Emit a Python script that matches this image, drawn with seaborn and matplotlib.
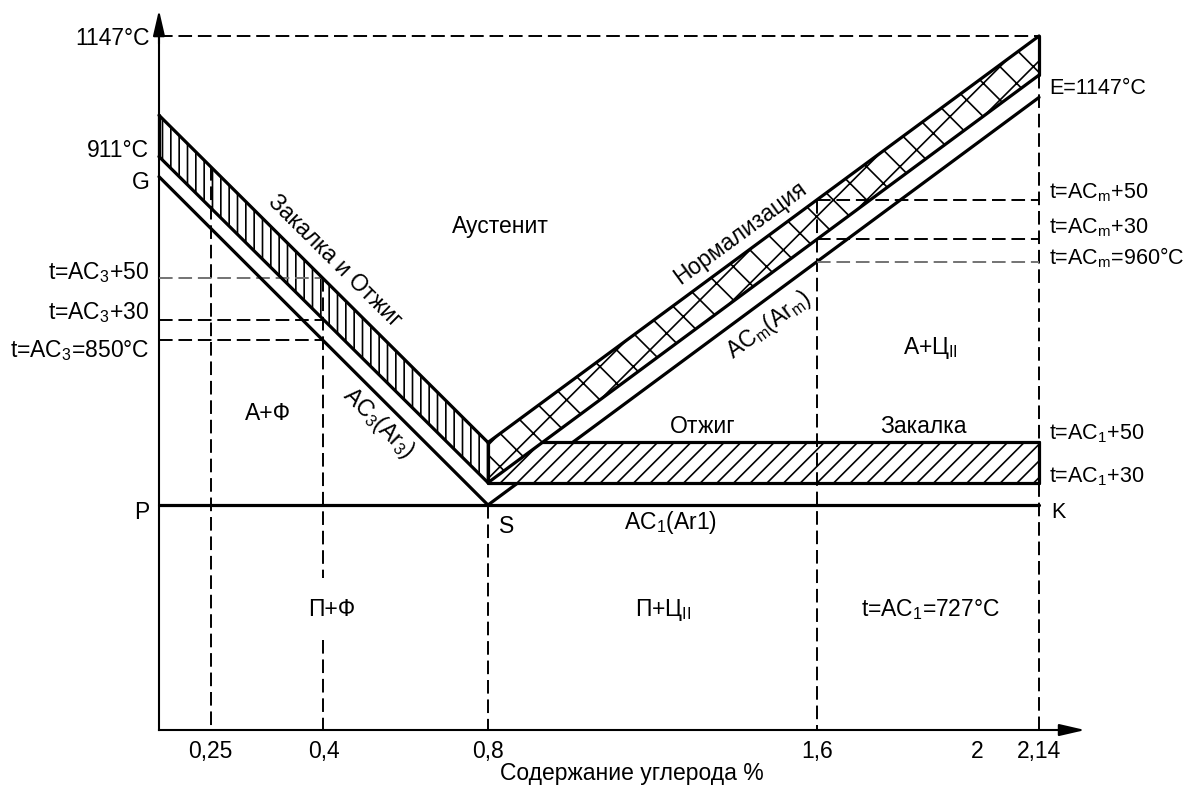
import pandas as pd
import seaborn as sns
import matplotlib.pyplot as plt

# carbon content, % (schematic positions along the axis)
x_left = [0.0, 0.8]
x_right = [0.8, 2.14]
x_ticks = [0.126, 0.4, 0.8, 1.6, 1.99, 2.14]
x_tick_labels = ['0,25', '0,4', '0,8', '1,6', '2', '2,14']

# temperatures, °C (schematic scale, as drawn)
quench_upper = [1076, 783]   # AC3 + 50
quench_lower = [1039, 747]   # AC3 + 30
ac3_line = [1021, 727]       # G-S
norm_upper = [783, 1147]     # ACm + 50
norm_lower = [747, 1112]     # ACm + 30
acm_line = [727, 1092]       # S-E
t_ac1 = 727
t_ac1_30 = 747
t_ac1_50 = 783
t_e = 1147
t_floor = 525.5
anneal_start = 0.932

# dashed guide lines
guide_x = [0.126, 0.4, 0.8, 1.6, 2.14]
guide_top = [1030, 930, 727, 1000, 1147]
left_levels = [930, 893, 875]
right_levels = [1000, 965, 945]

y_label_pos = [1147, 1046.7, 1018, 937.4, 901.6, 867.6, 722.5]
y_labels = ['1147°C', '911°C', 'G', 't=AC$_3$+50', 't=AC$_3$+30',
            't=AC$_3$=850°C', 'P']

sns.set_theme(style='white')
plt.rcParams['font.family'] = ['Liberation Sans', 'DejaVu Sans']
plt.rcParams['mathtext.fontset'] = 'custom'
plt.rcParams['mathtext.rm'] = 'Liberation Sans'
plt.rcParams['mathtext.it'] = 'Liberation Sans'
plt.rcParams['hatch.linewidth'] = 1.2
fs = 16.5
fs_right = 15.5

fig = plt.figure(figsize=(11.89, 7.89), dpi=100)
ax = fig.add_axes([0, 0, 1, 1])
ax.set_xlim(-0.3866, 2.5046)
ax.set_ylim(472.7, 1179.2)

# solid contour lines
solid = [
    ('q_up', x_left, quench_upper),
    ('q_lo', x_left, quench_lower),
    ('gs', x_left, ac3_line),
    ('n_up', x_right, norm_upper),
    ('n_lo', x_right, norm_lower),
    ('psk', [0, 2.14], [t_ac1, t_ac1]),
    ('a_top', [anneal_start, 2.14], [t_ac1_50, t_ac1_50]),
    ('a_bot', [0.8, 2.14], [t_ac1_30, t_ac1_30]),
    ('v08', [0.8, 0.8], [t_ac1_30, t_ac1_50]),
    ('v214a', [2.14, 2.14], [t_ac1_30, t_ac1_50]),
    ('v214b', [2.14, 2.14], [norm_lower[1], t_e]),
    ('v0', [0, 0], [quench_lower[0], quench_upper[0]]),
]
rows = []
for name, xs, ys in solid:
    for xv, yv in zip(xs, ys):
        rows.append({'x': xv, 'T': yv, 'seg': name})
solid_df = pd.DataFrame(rows)

dashed = []
for xv, top in zip(guide_x, guide_top):
    if xv == 0.4:
        dashed.append(('v04a', [xv, xv], [top, 662], 'k'))
        dashed.append(('v04b', [xv, xv], [606, t_floor], 'k'))
    else:
        dashed.append(('v%s' % xv, [xv, xv], [top, t_floor], 'k'))
dashed.append(('h1147', [0, 2.14], [t_e, t_e], 'k'))
for i, lv in enumerate(left_levels):
    dashed.append(('hl%d' % i, [0, 0.4], [lv, lv], 'g' if i == 0 else 'k'))
for i, lv in enumerate(right_levels):
    dashed.append(('hr%d' % i, [1.6, 2.14], [lv, lv], 'g' if i == 2 else 'k'))
rows = []
for name, xs, ys, c in dashed:
    for xv, yv in zip(xs, ys):
        rows.append({'x': xv, 'T': yv, 'seg': name, 'c': c})
dash_df = pd.DataFrame(rows)

# S-E line sits under the annealing band
sns.lineplot(x=x_right, y=acm_line, color='black', lw=2.3, ax=ax, zorder=1.5)

ax.fill_between(x_left, quench_lower, quench_upper, facecolor='white',
                edgecolor='black', hatch='||', linewidth=0, zorder=2)
ax.fill_between([0.8, 2.14], t_ac1_30, t_ac1_50, facecolor='white',
                edgecolor='black', hatch='//', linewidth=0, zorder=2)
ax.fill_between(x_right, norm_lower, norm_upper, facecolor='white',
                edgecolor='black', hatch='x', linewidth=0, zorder=2.1)

for c, col in [('k', 'black'), ('g', '0.45')]:
    sub = dash_df[dash_df['c'] == c]
    sns.lineplot(data=sub, x='x', y='T', units='seg', estimator=None, sort=False,
                 color=col, lw=1.4, ax=ax, zorder=3, dashes=False,
                 linestyle=(0, (7, 3)))

sns.lineplot(data=solid_df, x='x', y='T', units='seg', estimator=None, sort=False,
             color='black', lw=2.3, ax=ax, zorder=4)

# axes as arrows
for side in ['top', 'right']:
    ax.spines[side].set_visible(False)
ax.spines['bottom'].set_position(('data', t_floor))
ax.spines['left'].set_position(('data', 0))
ax.spines['bottom'].set_bounds(0, 2.22)
ax.spines['left'].set_bounds(t_floor, 1150)
for side in ['bottom', 'left']:
    ax.spines[side].set_linewidth(1.5)
    ax.spines[side].set_color('black')
arrow = dict(arrowstyle='-|>,head_length=1.3,head_width=0.3', color='black',
             lw=1.5, shrinkA=0, shrinkB=0)
ax.annotate('', xy=(2.252, t_floor), xytext=(2.2, t_floor), arrowprops=arrow)
ax.annotate('', xy=(0, 1170.3), xytext=(0, 1140), arrowprops=arrow)

ax.set_xticks(x_ticks)
ax.set_xticklabels(x_tick_labels, fontsize=fs)
ax.set_yticks(y_label_pos)
ax.set_yticklabels(y_labels, fontsize=fs)
ax.tick_params(axis='both', length=0, pad=7, colors='black')
ax.set_xlabel('')
ax.set_ylabel('')

# region and line labels
tk = dict(fontsize=fs, ha='center', va='center', color='black')
ax.text(0.829, 976.8, 'Аустенит', **tk)
ax.text(0.265, 809, 'А+Ф', **tk)
ax.text(0.42, 633, 'П+Ф', **tk)
ax.text(1.225, 633, 'П+Ц$_{II}$', **tk)
ax.text(1.875, 633, 't=AC$_1$=727°C', **tk)
ax.text(1.875, 867.6, 'А+Ц$_{II}$', **tk)
ax.text(1.323, 797, 'Отжиг', **tk)
ax.text(1.858, 797, 'Закалка', **tk)
ax.text(1.243, 711, 'AC$_1$(Ar1)', **tk)
ax.text(0.846, 708, 'S', **tk)
ax.text(1.150, 487, 'Содержание углерода %', **tk)

tl = dict(fontsize=fs_right, ha='left', va='center', color='black')
ax.text(2.169, 720.7, 'K', **tl)
ax.text(2.164, 1100.4, 'E=1147°C', **tl)
ax.text(2.164, 1006.4, 't=AC$_m$+50', **tl)
ax.text(2.164, 975, 't=AC$_m$+30', **tl)
ax.text(2.164, 948, 't=AC$_m$=960°C', **tl)
ax.text(2.164, 790.6, 't=AC$_1$+50', **tl)
ax.text(2.164, 752, 't=AC$_1$+30', **tl)

ax.text(0.428, 946, 'Закалка и Отжиг', rotation=-44.7, rotation_mode='anchor', **tk)
ax.text(0.5325, 800.4, 'AC$_3$(Ar$_3$)', rotation=-44.7, rotation_mode='anchor', **tk)
ax.text(1.413, 970.6, 'Нормализация', rotation=36.2, rotation_mode='anchor', **tk)
ax.text(1.483, 888, 'AC$_m$(Ar$_m$)', rotation=36.2, rotation_mode='anchor', **tk)

fig.savefig('out.png', dpi=100, facecolor='white')
